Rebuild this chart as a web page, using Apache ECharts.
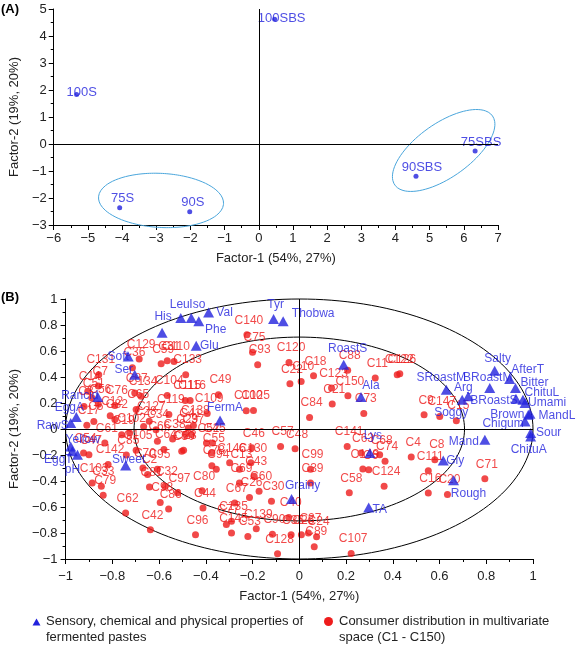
<!DOCTYPE html>
<html><head><meta charset="utf-8">
<script src="https://cdn.jsdelivr.net/npm/echarts@6/dist/echarts.min.js"></script>
<style>html,body{margin:0;padding:0;background:#fff}#c{width:576px;height:645px}</style>
</head><body><div id="c"></div>
<script>
// ---------- Panel A data ----------
const sampleNames = ['100SBS','100S','75S','90S','90SBS','75SBS'];
const sampleX = [0.465,-5.33,-4.07,-2.02,4.6,6.33];
const sampleY = [4.625,1.83,-2.36,-2.51,-1.19,-0.26];
// confidence ellipses (centre + two conjugate semi-axis vectors, data units)
const ellipseLeft  = {cx:-2.86, cy:-2.09, ux:1.829, uy:-0.122, vx:0.041, vy:1.0};
const ellipseRight = {cx:5.41,  cy:-0.24, ux:1.43,  uy:1.277,  vx:-0.45, vy:0.82};

// ---------- Panel B data ----------
const attrNames = ['His','Leu','Iso','Phe','Val','Glu','Soft','Ser','Rancid','EggA','RawS','Yellow','EggT','pH','Sweet','FermA','Tyr','Thobwa','Grainy','RoastS','Ala','Lys','TA','SRoastM','Arg','Soggy','BRoastM','AfterT','Salty','Bitter','BRoastS','ChituL','Umami','Brown','MandL','Chigum','Sour','ChituA','Mand','Gly','Rough'];
const attrX = [-0.587,-0.507,-0.462,-0.430,-0.388,-0.441,-0.732,-0.704,-0.862,-0.954,-0.978,-0.978,-0.971,-0.949,-0.743,-0.339,-0.11,-0.069,-0.033,0.19,0.264,0.302,0.297,0.629,0.723,0.697,0.815,0.9,0.836,0.925,0.927,0.957,0.966,0.98,0.987,0.966,0.99,0.99,0.794,0.616,0.66];
const attrY = [0.741,0.854,0.854,0.828,0.897,0.641,0.558,0.418,0.246,0.092,0.046,-0.134,-0.172,-0.198,-0.28,0.066,0.846,0.828,-0.538,0.495,0.246,-0.185,-0.603,0.302,0.251,0.225,0.315,0.385,0.448,0.315,0.233,0.225,0.2,0.11,0.118,0.058,-0.031,-0.057,-0.082,-0.242,-0.395];

const consumerNames = ['C129','C36','C59','C31','C110','C133','C131','C7','C14','C51','C56','C76','C65','C134','C104','C115','C116','C49','C119','C109','C82','C127','C17','C102','C138','C29','C37','C52','C66','C64','C23','C61','C105','C54','C85','C142','C2','C95','C146','C130','C94','C13','C43','C46','C57','C48','C103','C33','C79','C81','C32','C97','C80','C69','C60','C26','C30','C62','C42','C96','C44','C86','C98','C67','C135','C77','C139','C145','C53','C128','C107','C89','C90','C35','C25','C27','C24','C40','C99','C39','C58','C149','C6','C124','C141','C68','C74','C63','C4','C8','C111','C16','C20','C71','C73','C84','C21','C150','C123','C18','C22','C10','C120','C88','C11','C122','C126','C9','C147','C15','C140','C75','C93','C100','C125','C3','C5','C12','C19','C28','C34','C38','C41','C45','C47','C50','C55','C70','C78','C87'];
const consumerX = [-0.685,-0.714,-0.591,-0.565,-0.536,-0.486,-0.858,-0.86,-0.905,-0.888,-0.86,-0.789,-0.698,-0.677,-0.565,-0.488,-0.467,-0.346,-0.558,-0.394,-0.789,-0.642,-0.909,-0.726,-0.453,-0.488,-0.461,-0.397,-0.607,-0.579,-0.495,-0.832,-0.698,-0.923,-0.74,-0.818,-0.649,-0.607,-0.298,-0.207,-0.355,-0.256,-0.193,-0.203,-0.08,-0.018,-0.886,-0.847,-0.839,-0.641,-0.575,-0.521,-0.416,-0.256,-0.172,-0.213,-0.119,-0.743,-0.637,-0.444,-0.412,-0.559,-0.595,-0.276,-0.29,-0.312,-0.184,-0.29,-0.22,-0.093,0.222,0.064,-0.115,-0.035,0.009,0.039,0.074,-0.045,0.048,0.048,0.214,0.272,0.297,0.363,0.205,0.344,0.367,0.264,0.479,0.58,0.552,0.552,0.634,0.794,0.276,0.044,0.141,0.208,0.138,0.061,-0.04,0.008,-0.044,0.207,0.325,0.419,0.43,0.534,0.601,0.672,-0.224,-0.2,-0.178,-0.227,-0.196,-0.921,-0.879,-0.809,-0.76,-0.666,-0.613,-0.542,-0.475,-0.371,-0.9,-0.503,-0.374,-0.669,-0.374,-0.704];
const consumerY = [0.538,0.472,0.502,0.525,0.52,0.418,0.418,0.33,0.29,0.24,0.19,0.18,0.15,0.252,0.258,0.219,0.219,0.264,0.112,0.119,0.073,0.06,0.029,-0.03,0.027,-0.042,-0.042,-0.107,-0.094,-0.158,-0.163,-0.107,-0.163,-0.184,-0.2,-0.273,-0.35,-0.31,-0.26,-0.26,-0.31,-0.31,-0.363,-0.144,-0.135,-0.152,-0.415,-0.44,-0.51,-0.446,-0.44,-0.49,-0.475,-0.415,-0.478,-0.526,-0.555,-0.646,-0.775,-0.813,-0.608,-0.615,-0.565,-0.569,-0.71,-0.735,-0.767,-0.8,-0.826,-0.96,-0.958,-0.905,-0.81,-0.813,-0.813,-0.8,-0.828,-0.68,-0.31,-0.415,-0.49,-0.307,-0.313,-0.44,-0.134,-0.198,-0.249,-0.185,-0.215,-0.236,-0.321,-0.492,-0.503,-0.383,0.12,0.089,0.192,0.256,0.315,0.41,0.348,0.366,0.512,0.452,0.392,0.418,0.425,0.11,0.097,0.064,0.725,0.59,0.495,0.141,0.143,0.174,0.058,0.102,-0.044,0.02,-0.005,-0.077,0.008,-0.108,-0.198,-0.172,-0.185,-0.3,-0.282,0.277];
const circleRadii = [1, 0.707];

// ---------- styles (kept apart from data) ----------
const FONT = '"Liberation Sans", Arial, Helvetica, sans-serif';
const BLUE = '#2222dd', RED = '#ee1c1c', SKY = '#4aa6dc', INK = '#222';
const sampleLabelOffset = {'100SBS':[7,-1],'100S':[5,-2],'75S':[3,-9],'90S':[3,-9],'90SBS':[6,-9],'75SBS':[6,-9]};
const attrLabelOffset = {His:[1,-16],Leu:[-1,-13],Iso:[6,-13],Phe:[17,8],Val:[16,0],Glu:[13,0],Soft:[-10,0],Ser:[-11,-5],Rancid:[-18,-1],EggA:[-7,-9],RawS:[-18,3],Yellow:[12,-7],EggT:[-14,8],pH:[-5,15],Sweet:[3,-6],FermA:[5,-13],Tyr:[2,-14],Thobwa:[30,-8],Grainy:[11,-13],RoastS:[4,-16],Ala:[10,-11],Lys:[3,-17],TA:[11,2],SRoastM:[-5,-12],Arg:[-5,-9],Soggy:[-11,13],BRoastM:[-2,-10],AfterT:[18,-9],Salty:[3,-12],Bitter:[19,-5],BRoastS:[-22,2],ChituL:[19,-7],Umami:[22,0],Brown:[-21,0],MandL:[27,2],Chigum:[-22,2],Sour:[18,0],ChituA:[-2,13],Mand:[-21,2],Gly:[12,0],Rough:[15,13]};

function fmt(v){ const r = Math.round(v*10)/10; return String(r).replace('-', '\u2212'); }
function ellipsePts(e){ const p=[]; const n=180; for(let i=0;i<=n;i++){ const t=2*Math.PI*i/n; p.push([e.cx+e.ux*Math.cos(t)+e.vx*Math.sin(t), e.cy+e.uy*Math.cos(t)+e.vy*Math.sin(t)]); } return p; }
function circle(r){ return ellipsePts({cx:0,cy:0,ux:r,uy:0,vx:0,vy:r}); }

function axis(grid, min, max, interval, name, gap, margin, isY){
  return {
    gridIndex:grid, type:'value', min, max, interval,
    name, nameLocation:'middle', nameGap:gap, nameRotate: isY?90:0,
    nameTextStyle:{color:INK,fontSize:13,fontFamily:FONT},
    axisLine:{show:true,onZero:false,lineStyle:{color:'#000',width:1}},
    axisTick:{show:true,inside:false,length:5,lineStyle:{color:'#000',width:1}},
    minorTick:{show:true,splitNumber:2,length:3,lineStyle:{color:'#000',width:1}},
    splitLine:{show:false}, minorSplitLine:{show:false},
    axisLabel:{color:INK,fontSize:13,fontFamily:FONT,margin,formatter:fmt,showMinLabel:true,showMaxLabel:true,hideOverlap:false}
  };
}
const crossLines = {silent:true,symbol:['none','none'],label:{show:false},animation:false,
  lineStyle:{color:'#000',type:'solid',width:1},emphasis:{disabled:true},data:[{xAxis:0},{yAxis:0}]};

const samplesData = sampleNames.map((n,i)=>({value:[sampleX[i],sampleY[i]],name:n,
  label:{show:true,position:'inside',offset:sampleLabelOffset[n],formatter:n,color:BLUE,fontSize:13,fontFamily:FONT}}));
const attrData = attrNames.map((n,i)=>({value:[attrX[i],attrY[i]],name:n,
  label:{show:true,position:'inside',offset:attrLabelOffset[n],formatter:n,color:BLUE,fontSize:12,fontFamily:FONT}}));
const consData = consumerNames.map((n,i)=>({value:[consumerX[i],consumerY[i]],name:n}));

const chart = echarts.init(document.getElementById('c'), null, {renderer:'canvas'});
chart.setOption({
  animation:false,
  backgroundColor:'#fff',
  textStyle:{fontFamily:FONT},
  grid:[
    {left:51,top:9,width:447,height:216},
    {left:58,top:299,width:475,height:260}
  ],
  xAxis:[
    axis(0,-6,7,1,'Factor-1 (54%, 27%)',27,7,false),
    axis(1,-1,1,0.2,'Factor-1 (54%, 27%)',31,11,false)
  ],
  yAxis:[
    axis(0,-3,5,1,'Factor-2 (19%, 20%)',21,7,true),
    axis(1,-1,1,0.2,'Factor-2 (19%, 20%)',41,8,true)
  ],
  series:[
    {type:'line',xAxisIndex:0,yAxisIndex:0,data:ellipsePts(ellipseLeft),showSymbol:false,clip:false,silent:true,lineStyle:{color:SKY,width:1},z:1},
    {type:'line',xAxisIndex:0,yAxisIndex:0,data:ellipsePts(ellipseRight),showSymbol:false,clip:false,silent:true,lineStyle:{color:SKY,width:1},z:1},
    {type:'scatter',name:'samples',xAxisIndex:0,yAxisIndex:0,data:samplesData,symbol:'circle',symbolSize:5,
      itemStyle:{color:BLUE},markLine:crossLines,z:3},
    {type:'line',xAxisIndex:1,yAxisIndex:1,data:circle(circleRadii[0]),showSymbol:false,clip:false,silent:true,lineStyle:{color:'#000',width:1},z:1},
    {type:'line',xAxisIndex:1,yAxisIndex:1,data:circle(circleRadii[1]),showSymbol:false,clip:false,silent:true,lineStyle:{color:'#000',width:1},z:1},
    {type:'scatter',name:'Consumer distribution in multivariate space (C1 - C150)',xAxisIndex:1,yAxisIndex:1,data:consData,
      symbol:'circle',symbolSize:7,itemStyle:{color:RED},
      label:{show:true,position:'top',distance:5,offset:[2,0],formatter:'{b}',color:RED,fontSize:12,fontFamily:FONT},
      markLine:crossLines,z:3},
    {type:'scatter',name:'Sensory, chemical and physical properties of fermented pastes',xAxisIndex:1,yAxisIndex:1,data:attrData,
      symbol:'triangle',symbolSize:[11,10],itemStyle:{color:BLUE},z:4}
  ],
  graphic:[
    {type:'text',left:1,top:3,style:{text:'(A)',font:'bold 13px '+FONT,fill:'#000'}},
    {type:'text',left:1,top:291,style:{text:'(B)',font:'bold 13px '+FONT,fill:'#000'}},
    {type:'polygon',shape:{points:[[36.5,618.5],[40.5,625.5],[32.5,625.5]]},style:{fill:BLUE}},
    {type:'text',left:46,top:614,style:{text:'Sensory, chemical and physical properties of\nfermented pastes',font:'13px '+FONT,fill:INK,lineHeight:15.5}},
    {type:'circle',shape:{cx:328.5,cy:621.5,r:4.5},style:{fill:RED}},
    {type:'text',left:339,top:614,style:{text:'Consumer distribution in multivariate\nspace (C1 - C150)',font:'13px '+FONT,fill:INK,lineHeight:15.5}}
  ]
});
</script></body></html>
